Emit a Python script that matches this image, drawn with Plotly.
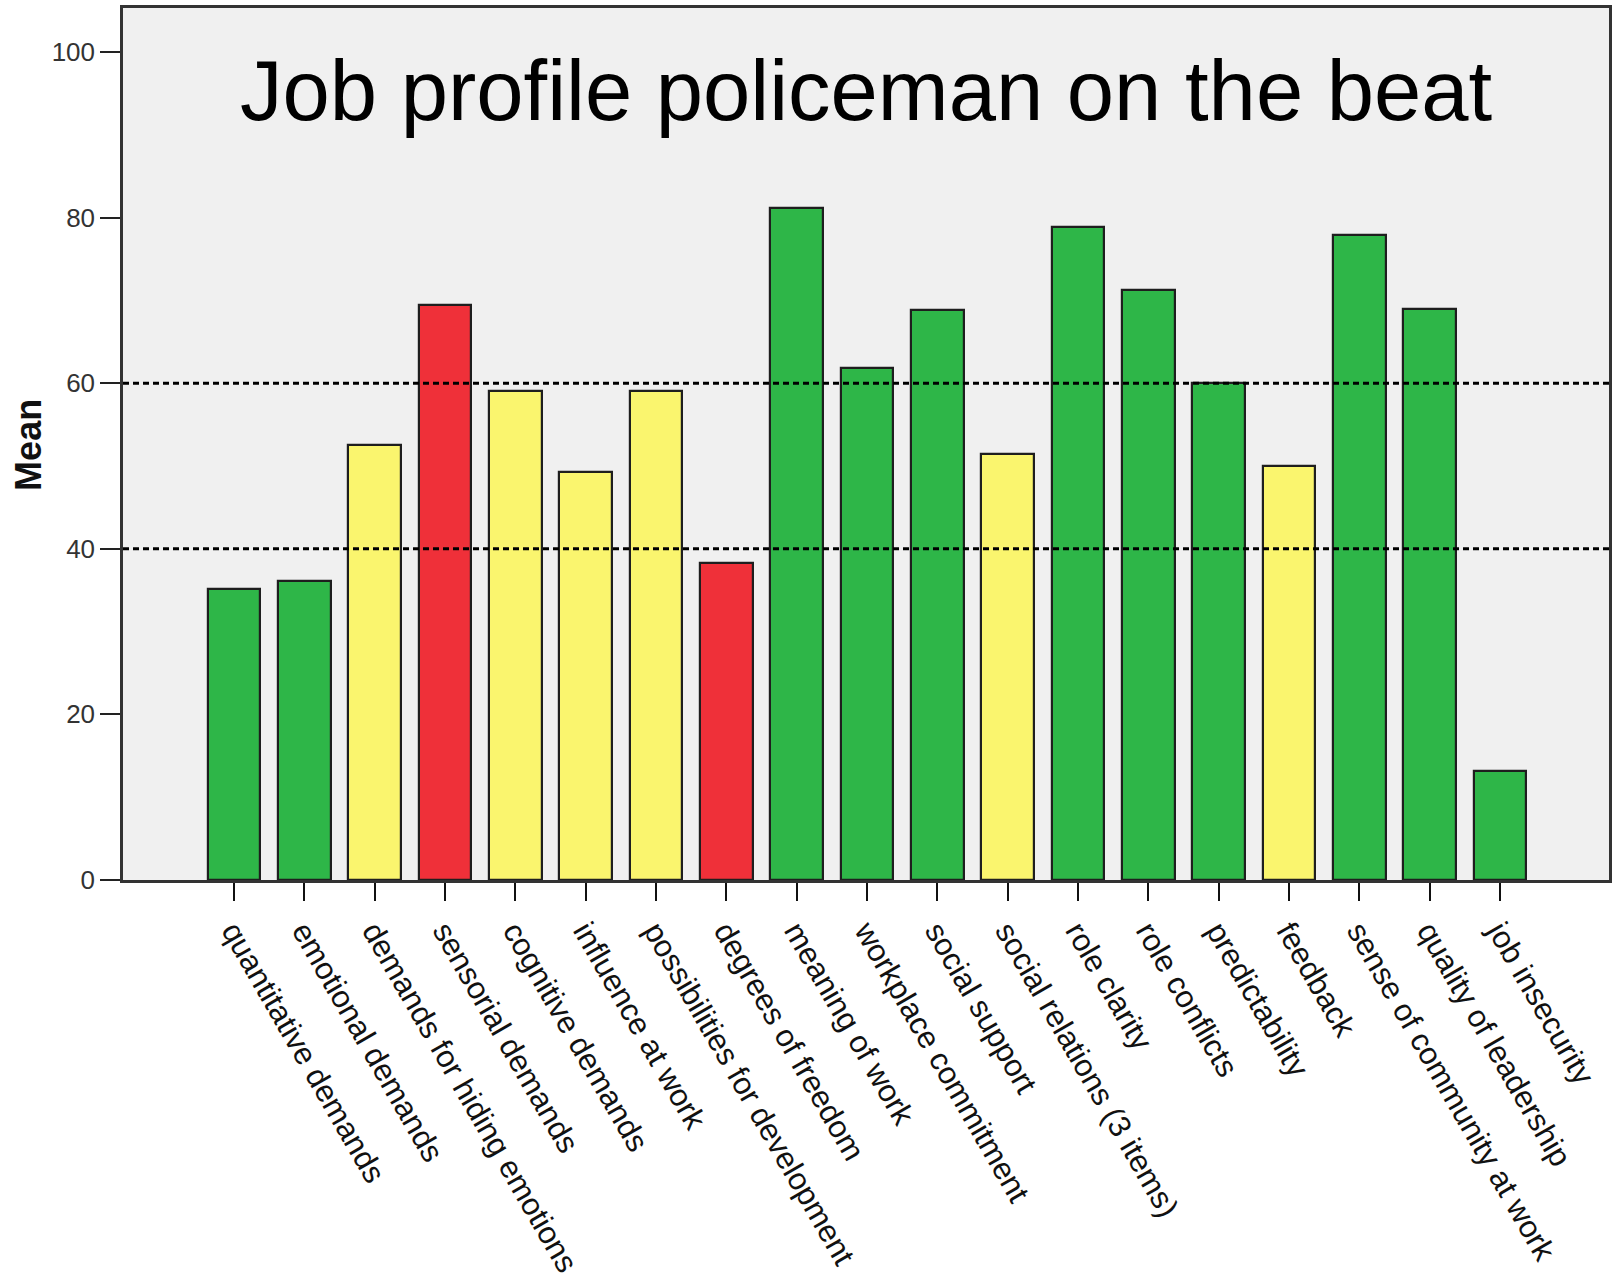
import plotly.graph_objects as go

# Mean scale scores per psychosocial dimension
categories = [
    "quantitative demands", "emotional demands", "demands for hiding emotions",
    "sensorial demands", "cognitive demands", "influence at work",
    "possibilities for development", "degrees of freedom", "meaning of work",
    "workplace commitment", "social support", "social relations (3 items)",
    "role clarity", "role conflicts", "predictability", "feedback",
    "sense of community at work", "quality of leadership", "job insecurity",
]
means = [35.2, 36.1, 52.5, 69.4, 59.1, 49.3, 59.0, 38.3, 81.1,
         61.8, 68.8, 51.4, 78.9, 71.3, 60.0, 50.0, 77.9, 69.0, 13.2]
# rating per dimension: g = favourable, y = intermediate, r = critical
ratings = ["g", "g", "y", "r", "y", "y", "y", "r", "g",
           "g", "g", "y", "g", "g", "g", "y", "g", "g", "g"]
thresholds = [40, 60]
y_ticks = [0, 20, 40, 60, 80, 100]

palette = {"g": "#2EB648", "y": "#FAF56E", "r": "#EF3039"}
positions = list(range(len(categories)))

fig = go.Figure()
fig.add_trace(go.Bar(
    x=positions,
    y=means,
    width=0.75,
    marker=dict(color=[palette[r] for r in ratings],
                line=dict(color="#1e1e1e", width=2.2)),
    hoverinfo="x+y",
))

for t in thresholds:
    fig.add_shape(type="line", xref="paper", x0=0, x1=1, yref="y", y0=t, y1=t,
                  line=dict(color="#000000", width=3, dash="6px,4px"))

fig.add_annotation(
    text="Job profile policeman on the beat",
    xref="paper", x=0.5, yref="y", y=95.3, yanchor="middle",
    showarrow=False, font=dict(family="Liberation Sans, Arial", size=85, color="#000000"),
)
fig.add_annotation(
    text="<b>Mean</b>", textangle=-90,
    xref="paper", x=-0.0635, yref="y", y=52.5,
    xanchor="center", yanchor="middle", showarrow=False,
    font=dict(family="Liberation Sans, Arial", size=36, color="#111111"),
)

fig.update_layout(
    width=1614, height=1283,
    margin=dict(l=123, r=2, t=8, b=403),
    paper_bgcolor="#FFFFFF",
    plot_bgcolor="#F0F0F0",
    showlegend=False,
    bargap=0,
)
fig.update_xaxes(
    range=[-1.58, 19.55],
    tickmode="array", tickvals=positions, ticktext=categories,
    tickangle=60, ticks="outside", ticklen=18, tickwidth=2, tickcolor="#111111",
    tickfont=dict(family="Liberation Sans, Arial", size=31, color="#111111"),
    showline=True, linecolor="#333333", linewidth=2.5, mirror=True,
    showgrid=False, zeroline=False,
)
fig.update_yaxes(
    range=[0, 105.3],
    tickmode="array", tickvals=y_ticks,
    ticks="outside", ticklen=20, tickwidth=2, tickcolor="#222222",
    tickfont=dict(family="Liberation Sans, Arial", size=26, color="#333333"),
    showline=True, linecolor="#333333", linewidth=2.5, mirror=True,
    showgrid=False, zeroline=False,
)

fig.write_html("out.html")
